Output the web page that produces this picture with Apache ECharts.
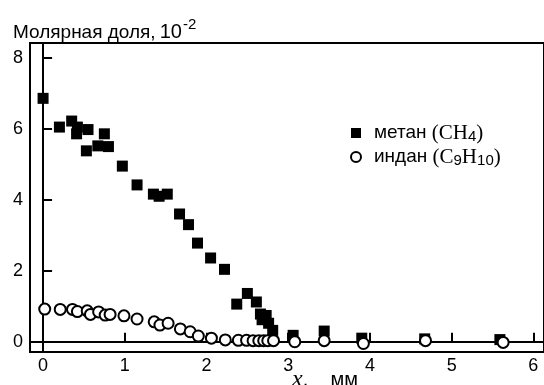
<!DOCTYPE html>
<html>
<head>
<meta charset="utf-8">
<script src="https://cdn.jsdelivr.net/npm/echarts@6/dist/echarts.min.js"></script>
<style>
  html, body { margin: 0; padding: 0; background: #fff; }
  #chart { width: 544px; height: 385px; }
</style>
</head>
<body>
<div id="chart"></div>
<script>
// methane (CH4) points: [x, mm ; mole fraction, 10^-2]
const methaneX = [0.0, 0.2, 0.35, 0.42, 0.41, 0.55, 0.53, 0.67, 0.75, 0.8, 0.97, 1.15, 1.35, 1.42, 1.52,
  1.67, 1.78, 1.89, 2.05, 2.22, 2.37, 2.5, 2.61, 2.66, 2.68, 2.73, 2.76, 2.81, 3.06, 3.44, 3.9, 4.67, 5.59];
const methaneY = [6.86, 6.05, 6.22, 6.05, 5.86, 5.98, 5.38, 5.52, 5.86, 5.5, 4.95, 4.42, 4.16, 4.1, 4.16,
  3.6, 3.3, 2.78, 2.36, 2.04, 1.06, 1.36, 1.12, 0.78, 0.62, 0.74, 0.52, 0.32, 0.18, 0.3, 0.1, 0.08, 0.06];

// indane (C9H10) points
const indaneX = [0.02, 0.21, 0.36, 0.42, 0.54, 0.58, 0.68, 0.76, 0.82, 0.99, 1.15, 1.36, 1.43, 1.53, 1.68,
  1.8, 1.9, 2.06, 2.23, 2.39, 2.49, 2.57, 2.64, 2.7, 2.75, 2.82, 3.08, 3.44, 3.92, 4.68, 5.63];
const indaneY = [0.92, 0.91, 0.91, 0.85, 0.87, 0.77, 0.84, 0.75, 0.77, 0.73, 0.64, 0.56, 0.47, 0.52, 0.36,
  0.28, 0.16, 0.1, 0.05, 0.04, 0.04, 0.03, 0.03, 0.03, 0.03, 0.03, 0.0, 0.03, -0.05, 0.03, -0.02];

const xTicks = [0, 1, 2, 3, 4, 5, 6];
const yTicks = [0, 2, 4, 6, 8];

const pairs = (xs, ys) => xs.map((x, i) => [x, ys[i]]);

const chart = echarts.init(document.getElementById("chart"));

const sans = "Liberation Sans";
const serif = "Liberation Serif";

const option = {
  animation: false,
  title: {
    left: 8,
    top: 12,
    text: "{a|Молярная доля,}{n|10}{s|-2}",
    textStyle: {
      rich: {
        a: { fontFamily: sans, fontSize: 19, fontWeight: "normal", color: "#000", lineHeight: 25, verticalAlign: "bottom" },
        n: { fontFamily: sans, fontSize: 20, fontWeight: "normal", color: "#000", lineHeight: 25, verticalAlign: "bottom", padding: [0, 0, 0, 4] },
        s: { fontFamily: sans, fontSize: 15, fontWeight: "normal", color: "#000", verticalAlign: "top", lineHeight: 25, padding: [0, 0, 0, 1] },
      },
    },
  },
  legend: {
    orient: "vertical",
    left: 345,
    top: 115,
    itemWidth: 10,
    itemHeight: 10,
    itemGap: 0,
    data: ["метан", "индан"],
    formatter: (name) =>
      name === "метан"
        ? "{t|метан }{f|(CH}{b|4}{f|)}"
        : "{t|индан }{f|(C}{b|9}{f|H}{b|10}{f|)}",
    textStyle: {
      rich: {
        t: { fontFamily: sans, fontSize: 19, color: "#000", lineHeight: 22, padding: [0, 0, 0, 8] },
        f: { fontFamily: serif, fontSize: 21, color: "#000", lineHeight: 22 },
        b: { fontFamily: sans, fontSize: 15, color: "#000", verticalAlign: "bottom", lineHeight: 22, padding: [9, 0, 0, 0] },
      },
    },
  },
  grid: {
    left: 30,
    top: 43,
    right: 0,
    bottom: 33,
    containLabel: false,
    outerBoundsMode: "none",
    show: true,
    borderColor: "#000",
    borderWidth: 2,
  },
  xAxis: {
    type: "value",
    min: -0.16,
    max: 6.13,
    interval: 1,
    name: "{x|x}{m|,    мм}",
    nameLocation: "middle",
    nameGap: 16,
    nameMoveOverlap: false,
    nameTextStyle: {
      padding: [0, 0, 0, 76],
      rich: {
        x: { fontFamily: serif, fontStyle: "italic", fontSize: 24, color: "#000" },
        m: { fontFamily: sans, fontSize: 20, color: "#000" },
      },
    },
    axisLine: { lineStyle: { color: "#000", width: 2 } },
    axisTick: { inside: true, length: 9, lineStyle: { color: "#000", width: 2 },
      customValues: xTicks },
    axisLabel: { color: "#000", fontFamily: sans, fontSize: 18, margin: 5,
      customValues: xTicks },
    splitLine: { show: false },
  },
  yAxis: {
    type: "value",
    min: -0.29,
    max: 8.42,
    interval: 2,
    axisLine: { lineStyle: { color: "#000", width: 2 } },
    axisTick: { inside: true, length: 9, lineStyle: { color: "#000", width: 2 },
      customValues: yTicks },
    axisLabel: { color: "#000", fontFamily: sans, fontSize: 18, margin: 7,
      customValues: yTicks },
    splitLine: { show: false },
  },
  series: [
    {
      name: "метан",
      type: "scatter",
      symbol: "rect",
      symbolSize: 11,
      itemStyle: { color: "#000", opacity: 1 },
      data: pairs(methaneX, methaneY),
      z: 3,
    },
    {
      name: "индан",
      type: "scatter",
      symbol: "emptyCircle",
      symbolSize: 11,
      itemStyle: { color: "#000", borderColor: "#000", borderWidth: 1.8, opacity: 1 },
      data: pairs(indaneX, indaneY),
      z: 4,
    },
  ],
};

chart.setOption(option);
</script>
</body>
</html>
